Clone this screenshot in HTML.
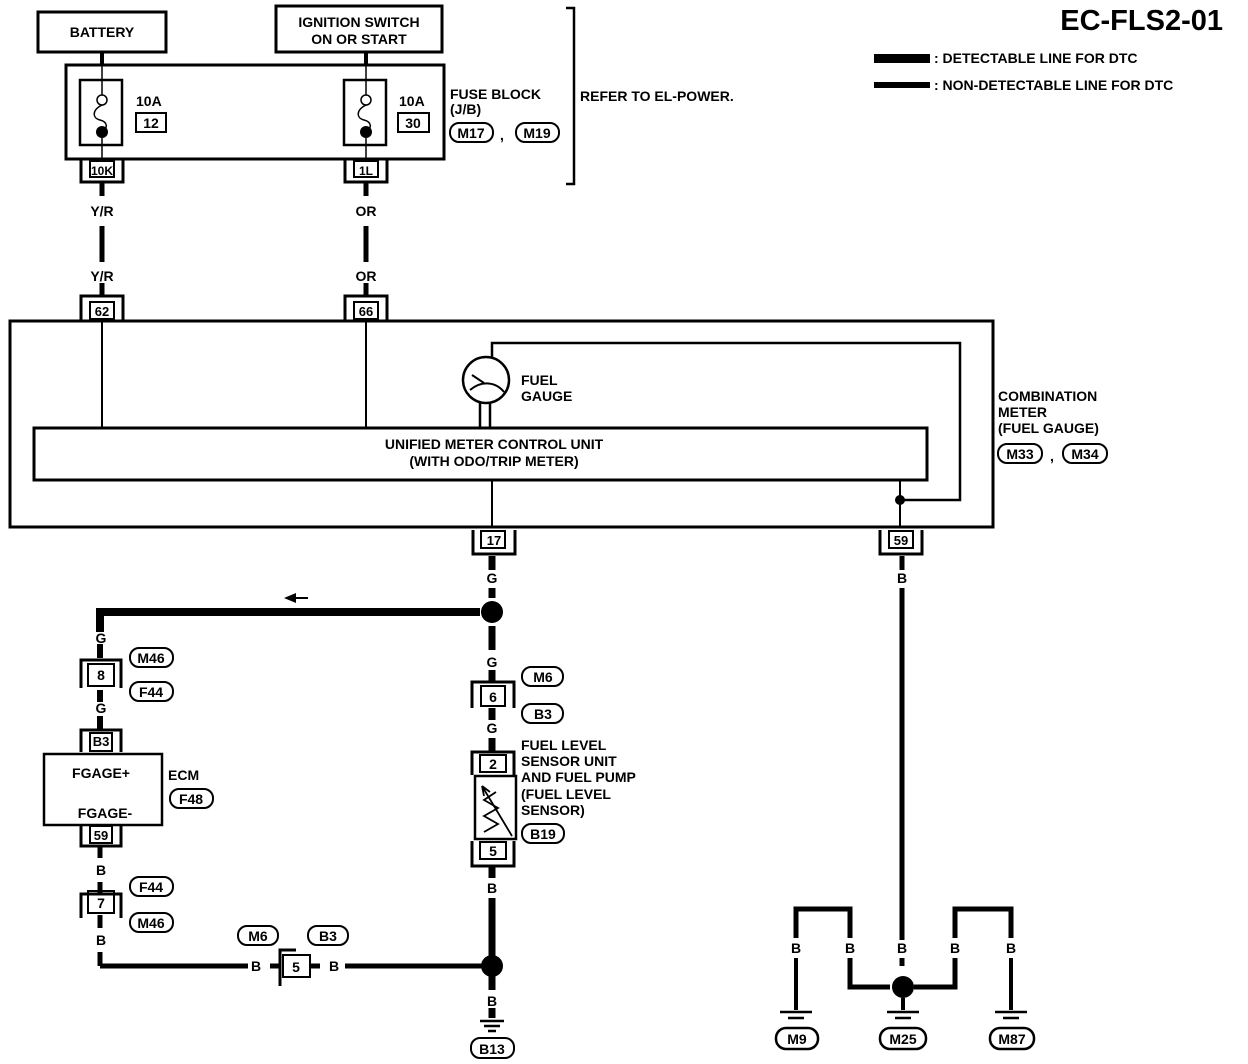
<!DOCTYPE html>
<html><head><meta charset="utf-8"><style>
html,body{margin:0;padding:0;background:#fff}
svg{display:block;font-family:"Liberation Sans",sans-serif;font-size:14px;font-weight:bold}
.c{text-anchor:middle}
</style></head><body>
<svg width="1248" height="1064" viewBox="0 0 1248 1064" xmlns="http://www.w3.org/2000/svg">
<g fill="none" stroke="#000" stroke-width="3">
<rect x="38" y="12" width="128" height="40"/>
<rect x="276" y="6" width="166" height="46"/>
<rect x="66" y="65" width="378" height="94"/>
<rect x="80" y="80" width="42" height="65" stroke-width="2.5"/>
<rect x="344" y="80" width="42" height="65" stroke-width="2.5"/>
<path d="M566 8 H574 V184 H566" stroke-width="2.5"/>
</g>
<g stroke="#000" fill="none">
<path d="M102 52 V65 M366 52 V65" stroke-width="4"/>
<path d="M102 65 V95 M102 132 V160 M366 65 V95 M366 132 V160" stroke-width="1.5"/>
<path d="M102 105 C92 110 92 118 100 120 C108 122 108 128 102 132" stroke-width="1.5"/>
<path d="M366 105 C356 110 356 118 364 120 C372 122 372 128 366 132" stroke-width="1.5"/>
<circle cx="102" cy="100" r="5" fill="#fff" stroke-width="1.5"/>
<circle cx="366" cy="100" r="5" fill="#fff" stroke-width="1.5"/>
</g>
<circle cx="102" cy="132" r="6"/><circle cx="366" cy="132" r="6"/>
<text x="136" y="106">10A</text>
<rect x="136" y="113" width="30" height="19" fill="none" stroke="#000" stroke-width="2"/>
<text x="151" y="128" class="c">12</text>
<text x="399" y="106">10A</text>
<rect x="398" y="113" width="31" height="19" fill="none" stroke="#000" stroke-width="2"/>
<text x="413" y="128" class="c">30</text>
<text x="102" y="37" class="c">BATTERY</text>
<text x="359" y="27" class="c">IGNITION SWITCH</text>
<text x="359" y="44" class="c">ON OR START</text>
<text x="450" y="99">FUSE BLOCK</text>
<text x="450" y="114">(J/B)</text>
<rect x="450" y="123" width="43" height="19" rx="9" fill="none" stroke="#000" stroke-width="2"/><text x="471" y="138" class="c">M17</text>
<text x="500" y="140">,</text>
<rect x="516" y="123" width="43" height="19" rx="9" fill="none" stroke="#000" stroke-width="2"/><text x="537" y="138" class="c">M19</text>
<text x="580" y="101">REFER TO EL-POWER.</text>

<g fill="none" stroke="#000">
<path d="M81 160 V182 H123 V160" stroke-width="3"/><rect x="90" y="161" width="24" height="16" stroke-width="2"/>
<path d="M345 160 V182 H387 V160" stroke-width="3"/><rect x="354" y="161" width="24" height="16" stroke-width="2"/>
<path d="M81 321 V296 H123 V321" stroke-width="3"/><rect x="90" y="302" width="24" height="17" stroke-width="2"/>
<path d="M345 321 V296 H387 V321" stroke-width="3"/><rect x="354" y="302" width="24" height="17" stroke-width="2"/>
</g>
<text x="102" y="175" class="c" font-size="12">10K</text>
<text x="366" y="175" class="c" font-size="12">1L</text>
<text x="102" y="316" class="c" font-size="13">62</text>
<text x="366" y="316" class="c" font-size="13">66</text>
<path d="M102 182 V196 M102 226 V262 M102 283 V296 M366 182 V196 M366 226 V262 M366 283 V296" stroke="#000" stroke-width="5"/>
<text x="102" y="216" class="c">Y/R</text><text x="102" y="281" class="c">Y/R</text>
<text x="366" y="216" class="c">OR</text><text x="366" y="281" class="c">OR</text>

<g fill="none" stroke="#000">
<rect x="10" y="321" width="983" height="206" stroke-width="3"/>
<rect x="34" y="428" width="893" height="52" stroke-width="3"/>
<path d="M102 321 V428 M366 321 V428 M492 480 V527 M900 480 V527" stroke-width="2"/>
<path d="M492 357 V343 H960 V500 H900" stroke-width="2.5"/>
<circle cx="486" cy="380" r="23" stroke-width="2.5"/>
<path d="M480 403 V428 M490 403 V428" stroke-width="2.5"/>
<path d="M472 375 L484 383 M470 390 C482 380 496 382 504 392" stroke-width="2"/>
<path d="M473 530 V554 H515 V530" stroke-width="3"/><rect x="481" y="531" width="24" height="17" stroke-width="2"/>
<path d="M880 530 V554 H922 V530" stroke-width="3"/><rect x="889" y="531" width="24" height="17" stroke-width="2"/>
</g>
<circle cx="900" cy="500" r="5"/>
<text x="494" y="545" class="c" font-size="13">17</text>
<text x="901" y="545" class="c" font-size="13">59</text>
<text x="521" y="385">FUEL</text><text x="521" y="401">GAUGE</text>
<text x="494" y="449" class="c">UNIFIED METER CONTROL UNIT</text>
<text x="494" y="466" class="c">(WITH ODO/TRIP METER)</text>
<text x="998" y="401">COMBINATION</text><text x="998" y="417">METER</text><text x="998" y="433">(FUEL GAUGE)</text>
<rect x="998" y="444" width="44" height="19" rx="9" fill="none" stroke="#000" stroke-width="2"/><text x="1020" y="459" class="c">M33</text>
<text x="1050" y="461">,</text>
<rect x="1063" y="444" width="44" height="19" rx="9" fill="none" stroke="#000" stroke-width="2"/><text x="1085" y="459" class="c">M34</text>

<g stroke="#000" fill="none">
<path d="M492 556 V570 M492 588 V598 M492 626 V650 M492 670 V682 M492 708 V720 M492 738 V752" stroke-width="7"/>
<path d="M480 612 H100 V632" stroke-width="8"/>
<path d="M100 644 V658 M100 690 V702 M100 716 V730" stroke-width="6"/>
</g>
<circle cx="492" cy="612" r="11"/>
<path d="M284 598 L296 593 V597 H308 V599 H296 V603 Z"/>
<text x="492" y="583" class="c">G</text><text x="492" y="667" class="c">G</text><text x="492" y="733" class="c">G</text>
<text x="101" y="643" class="c">G</text><text x="101" y="713" class="c">G</text>

<g fill="none" stroke="#000">
<path d="M81 688 V660 H121 V688" stroke-width="3"/><rect x="88" y="664" width="26" height="22" stroke-width="2"/>
<path d="M81 752 V730 H121 V752" stroke-width="3"/><rect x="90" y="733" width="22" height="18" stroke-width="2"/>
<rect x="44" y="754" width="118" height="71" stroke-width="2.5"/>
<path d="M81 826 V846 H121 V826" stroke-width="3"/><rect x="90" y="826" width="22" height="17" stroke-width="2"/>
<path d="M81 918 V894 H121 V918" stroke-width="3"/><rect x="88" y="891" width="26" height="22" stroke-width="2"/>
<path d="M100 846 V858 M100 882 V893 M100 915 V928 M100 952 V966" stroke-width="5"/>
<path d="M100 966 H248 M345 966 H482" stroke-width="5"/>
<path d="M270 966 H280 M310 966 H320" stroke-width="5"/>
<path d="M280 986 V950 H296" stroke-width="3"/><rect x="283" y="955" width="27" height="22" stroke-width="2"/>
<rect x="130" y="648" width="43" height="19" rx="9" stroke-width="2"/>
<rect x="130" y="682" width="43" height="19" rx="9" stroke-width="2"/>
<rect x="170" y="789" width="43" height="19" rx="9" stroke-width="2"/>
<rect x="130" y="877" width="43" height="19" rx="9" stroke-width="2"/>
<rect x="130" y="913" width="43" height="19" rx="9" stroke-width="2"/>
<rect x="238" y="926" width="40" height="19" rx="9" stroke-width="2"/>
<rect x="308" y="926" width="40" height="19" rx="9" stroke-width="2"/>
</g>
<text x="101" y="680" class="c">8</text><text x="101" y="746" class="c" font-size="13">B3</text>
<text x="101" y="778" class="c">FGAGE+</text><text x="105" y="818" class="c">FGAGE-</text>
<text x="168" y="780">ECM</text>
<text x="101" y="840" class="c" font-size="13">59</text><text x="101" y="908" class="c">7</text>
<text x="101" y="875" class="c">B</text><text x="101" y="945" class="c">B</text>
<text x="256" y="971" class="c">B</text><text x="334" y="971" class="c">B</text><text x="296" y="972" class="c">5</text>
<text x="151" y="663" class="c">M46</text><text x="151" y="697" class="c">F44</text><text x="191" y="804" class="c">F48</text>
<text x="151" y="892" class="c">F44</text><text x="151" y="928" class="c">M46</text>
<text x="258" y="941" class="c">M6</text><text x="328" y="941" class="c">B3</text>

<g fill="none" stroke="#000">
<path d="M472 708 V682 H514 V708" stroke-width="3"/><rect x="481" y="686" width="24" height="20" stroke-width="2"/>
<path d="M472 775 V752 H514 V775" stroke-width="3"/><rect x="480" y="755" width="26" height="17" stroke-width="2"/>
<rect x="475" y="776" width="41" height="63" stroke-width="2.5"/>
<path d="M472 841 V866 H514 V841" stroke-width="3"/><rect x="480" y="842" width="26" height="17" stroke-width="2"/>
<path d="M496 792 L484 800 L498 808 L484 816 L498 824 L484 832" stroke-width="1.8"/>
<path d="M512 836 L482 786 M482 786 L484 796 M482 786 L490 792" stroke-width="1.8"/>
<path d="M492 866 V878 M492 898 V958 M492 976 V990 M492 1008 V1018" stroke-width="7"/>
<path d="M480 1021 H504 M484 1026 H500 M488 1031 H496" stroke-width="2.5"/>
<rect x="522" y="667" width="41" height="19" rx="9" stroke-width="2"/>
<rect x="522" y="704" width="41" height="19" rx="9" stroke-width="2"/>
<rect x="522" y="824" width="42" height="19" rx="9" stroke-width="2"/>
<rect x="471" y="1038" width="43" height="20" rx="9" stroke-width="2"/>
</g>
<circle cx="492" cy="966" r="11"/>
<text x="493" y="702" class="c">6</text><text x="493" y="769" class="c">2</text><text x="493" y="856" class="c">5</text>
<text x="492" y="893" class="c">B</text><text x="492" y="1006" class="c">B</text>
<text x="543" y="682" class="c">M6</text><text x="543" y="719" class="c">B3</text><text x="543" y="839" class="c">B19</text>
<text x="492" y="1054" class="c">B13</text>
<text x="521" y="750">FUEL LEVEL</text><text x="521" y="766">SENSOR UNIT</text><text x="521" y="782">AND FUEL PUMP</text>
<text x="521" y="799">(FUEL LEVEL</text><text x="521" y="815">SENSOR)</text>

<g fill="none" stroke="#000">
<path d="M902 556 V570 M902 588 V940 M902 958 V966" stroke-width="5"/>
<path d="M796 938 V909 H850 V938 M850 958 V987 H890 M914 987 H955 V958 M955 938 V909 H1011 V938" stroke-width="5"/>
<path d="M796 958 V1010 M1011 958 V1010 M903 998 V1010" stroke-width="4"/>
<path d="M780 1012 H812 M788 1018 H804 M887 1012 H919 M895 1018 H911 M995 1012 H1027 M1003 1018 H1019" stroke-width="2.5"/>
<rect x="776" y="1028" width="42" height="21" rx="10" stroke-width="2.5"/>
<rect x="880" y="1028" width="46" height="21" rx="10" stroke-width="2.5"/>
<rect x="990" y="1028" width="44" height="21" rx="10" stroke-width="2.5"/>
</g>
<circle cx="903" cy="987" r="11"/>
<text x="902" y="583" class="c">B</text>
<text x="796" y="953" class="c">B</text><text x="850" y="953" class="c">B</text><text x="902" y="953" class="c">B</text><text x="955" y="953" class="c">B</text><text x="1011" y="953" class="c">B</text>
<text x="797" y="1044" class="c">M9</text><text x="903" y="1044" class="c">M25</text><text x="1012" y="1044" class="c">M87</text>

<text x="1223" y="30" font-size="29" text-anchor="end">EC-FLS2-01</text>
<rect x="874" y="54" width="56" height="9"/>
<rect x="874" y="82" width="56" height="6"/>
<text x="934" y="63">: DETECTABLE LINE FOR DTC</text>
<text x="934" y="90">: NON-DETECTABLE LINE FOR DTC</text>
</svg>
</body></html>
